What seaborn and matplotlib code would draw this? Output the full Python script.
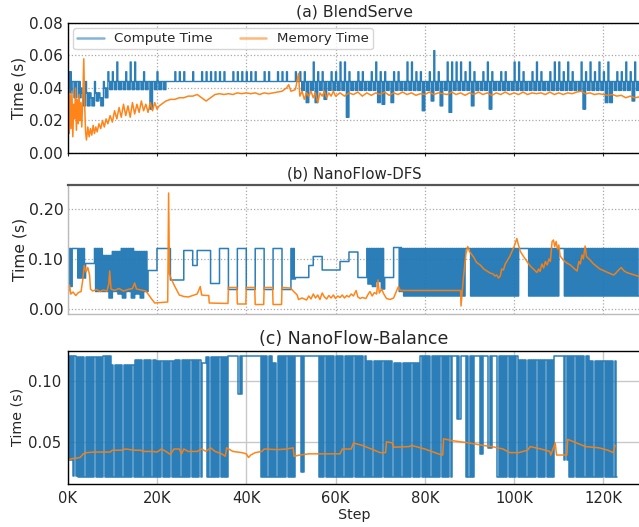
import matplotlib
matplotlib.use("Agg")
import matplotlib.pyplot as plt
from matplotlib.lines import Line2D
import numpy as np
import pandas as pd
import seaborn as sns

sns.set_style("white")
plt.rcParams['font.family'] = ['DejaVu Sans']

BLUE = "#1f77b4"
ORANGE = "#ff7f0e"

titles = ["(a) BlendServe", "(b) NanoFlow-DFS", "(c) NanoFlow-Balance"]
series_names = ["Compute Time", "Memory Time"]
x_tick_values = [0, 20000, 40000, 60000, 80000, 100000, 120000]
x_tick_labels = ["0K", "20K", "40K", "60K", "80K", "100K", "120K"]

# ---------------- (a) BlendServe ----------------
# compute time per 1K-step bin: spike value, band top, band bottom (s)
blend_compute_spike = (
    [.050, .044, .044, .040, .044, .037, .044, .037, .044, .050, .050, .056, .044, .050, .056, .056,
     .044, .050, .044, .044, .050, .044]
    + [.044, .044, .050, .050, .050, .044, .050, .044, .050, .050, .050, .050, .050, .050, .044,
       .050, .050, .050, .050, .050, .050, .044, .050, .050, .044, .050, .050, .050, .044, .050]
    + [.050, .050, .044, .056, .050, .050, .044, .050, .050, .056, .056, .050, .044, .050, .050,
       .044, .050, .056, .050, .050, .044, .050, .050, .044, .056, .056, .050, .050, .044, .050,
       .063, .050, .044, .056, .056, .056, .056, .050, .056, .050, .044, .050, .056, .050, .044,
       .050, .050, .044, .056, .056, .050, .044, .050, .056, .050, .044, .050, .056, .056, .050,
       .056, .050, .044, .056, .050, .056, .050, .056, .050, .056, .044, .050, .050, .056, .050,
       .056]
)
blend_compute_upper = (
    [.050, .044, .044, .037, .037, .034, .037, .034, .040]
    + [.044] * 13
    + [.044] * 30
    + [.044] * 76
)
blend_compute_lower = (
    [.037, .034, .034, .029, .029, .029, .032, .029, .034, .039, .039, .039, .039, .039, .039, .039,
     .039, .039, .027, .039, .039, .039]
    + [.044] * 30
    + [.0385, .031, .0385, .031, .0385, .033, .0385, .0385, .0385, .0385, .022, .0385, .0385,
       .0385, .0385, .0385, .0385, .031, .030, .0385, .031, .0385, .0385, .0385, .0385, .0385,
       .0385, .026, .0385, .032, .0385, .029, .0385, .025, .0385, .0385, .0385, .0385, .029,
       .0385, .0385, .0385, .027, .0385, .0385, .0385, .0385, .0385, .0385, .0385, .0385,
       .0385, .0385, .0385, .0385, .0385, .0385, .0385, .0385, .0385, .0385, .0385, .0385,
       .027, .0385, .0385, .0385, .0385, .031, .031, .0385, .0385, .0385, .0385, .032, .0385]
)
blend_mem_step_k = [
    0, 0.15, 0.35, 0.55, 0.75, 0.95, 1.15, 1.35, 1.55, 1.75, 1.95, 2.15, 2.35, 2.55, 2.75, 2.95,
    3.15, 3.4, 3.6, 3.8, 4.0, 4.2, 4.5, 4.8, 5.1, 5.4, 5.7, 6.0, 6.3, 6.6, 7.0, 7.4, 7.8, 8.2,
    8.6, 9.0, 9.5, 10.0, 10.5, 11.0, 11.5, 12.0, 12.5, 13.0, 13.5, 14.0, 14.5, 15.0, 15.5, 16.0,
    16.5, 17.0, 17.5, 18.0, 18.5, 19.0, 19.5, 20.0, 20.5, 21, 22, 23, 24, 25, 26, 27, 28, 29, 30,
    31, 32, 33, 34, 35, 36, 37, 38, 39, 40, 41, 42, 43, 44, 45, 46, 47, 48, 49, 49.5, 50, 51,
    51.7, 52, 52.5, 53, 53.5, 54, 54.5, 55, 55.5, 56, 56.5, 57, 57.5, 58, 58.5, 59, 59.5, 60,
    61, 62, 63, 64, 65, 66, 67, 68, 69, 70, 71, 72, 73, 74, 75, 76, 77, 78, 79, 80, 81, 82, 83,
    84, 85, 86, 87, 88, 89, 90, 91, 92, 93, 94, 95, 96, 97, 98, 99, 100, 101, 102, 103, 104,
    105, 106, 107, 108, 109, 110, 111, 112, 113, 114, 115, 116, 117, 118, 119, 120, 121, 122,
    123, 124, 125, 126, 127, 128]
blend_mem_time = [
    .000, .040, .012, .036, .015, .038, .010, .030, .021, .040, .014, .033, .018, .036, .020, .031,
    .016, .036, .058, .030, .013, .008, .016, .010, .015, .011, .017, .012, .016, .013, .018, .015,
    .020, .016, .021, .018, .023, .019, .026, .021, .028, .022, .030, .023, .029, .022, .031, .024,
    .030, .025, .032, .026, .030, .025, .031, .026, .031, .027, .029, .030, .032, .033, .033, .034,
    .034, .035, .035, .036, .034, .032, .034, .036, .0365, .036, .0365, .036, .037, .0365, .037,
    .0365, .037, .036, .037, .0365, .037, .0375, .038, .040, .042, .038, .039, .049, .035, .038,
    .033, .037, .035, .038, .034, .037, .031, .037, .035, .038, .034, .037, .035, .038, .035, .037,
    .035, .037, .036, .0375, .035, .037, .0355, .037, .036, .0375, .0355, .037, .036, .0375, .036,
    .037, .0355, .0365, .036, .0375, .036, .037, .0365, .036, .0375, .036, .037, .0355, .037, .036,
    .0375, .036, .037, .0355, .037, .036, .0375, .036, .037, .036, .0375, .036, .037, .0365, .037,
    .036, .0375, .036, .037, .036, .037, .0365, .0375, .038, .0365, .037, .036, .0365, .036, .0355,
    .036, .035, .0355, .034, .035, .034, .0345]

# ---------------- (b) NanoFlow-DFS ----------------
dfs_compute_peak = (
    [.121, .121, .121, .121, .091, .091, .121, .121, .107, .107, .115, .115, .121, .121, .121, .115,
     .115, .115, .077, .077, .121, .121, .121, .058, .058, .058, .117, .117, .087, .117, .117, .117,
     .051, .051, .121, .121, .039, .039, .121, .121, .039, .039, .121, .121, .039, .039, .121, .121,
     .039, .039, .121, .063, .063, .063, .087, .105, .105, .078, .078, .078, .078, .095, .095, .114,
     .114, .063, .063, .121, .121, .121, .121, .063, .063, .123, .123]
    + [.121] * 53
)
dfs_compute_trough = (
    [.045, .121, .062, .062, .091, .091, .035, .035, .035, .022, .035, .030, .022, .035, .022, .030,
     .022, .035, .077, .077, .121, .121, .121, .058, .058, .058, .117, .117, .087, .117, .117, .117,
     .051, .051, .121, .121, .039, .039, .121, .121, .039, .039, .121, .121, .039, .039, .121, .121,
     .039, .039, .060, .063, .063, .063, .087, .105, .105, .078, .078, .078, .078, .095, .095, .114,
     .114, .063, .063, .050, .045, .055, .040, .063, .063, .123, .035]
    + [.026] * 14 + [.121] + [.026] * 11 + [.121] * 2 + [.026] * 7 + [.121] + [.026] * 17
)
dfs_mem_step_k = [
    0, 0.15, 0.4, 0.7, 1.2, 1.8, 2.4, 3.0, 3.4, 3.7, 4.1, 4.5, 4.9, 5.1, 5.6, 6.5, 7.2, 8.0, 8.8,
    9.2, 9.4, 9.7, 10.5, 11.5, 12.5, 13.5, 14.5, 15.0, 15.4, 16.5, 17.5, 18.0, 18.8, 19.5, 21.0,
    22.4, 22.6, 22.8, 23.2, 24.0, 25.0, 26.0, 27.0, 28.0, 29.0, 29.7, 30.0, 31.0, 31.6, 31.7,
    35.9, 36.0, 37.9, 38.0, 39.9, 40.0, 41.9, 42.0, 43.9, 44.0, 45.9, 46.0, 47.9, 48.0, 49.9,
    50.5, 51.4, 51.7, 52.5, 53.5, 54, 54.5, 55, 55.5, 56, 56.5, 57, 57.5, 58, 58.5, 59, 59.5, 60,
    60.5, 61, 61.5, 62, 62.5, 63, 63.5, 64, 64.6, 65, 65.5, 66, 66.8, 67.2, 67.7, 68.2, 68.7,
    69.2, 69.5, 69.8, 70.3, 70.8, 71.4, 72.2, 73, 73.6, 74.1, 74.5, 88.0, 88.1, 88.6, 89.2, 89.6,
    90.0, 90.9, 91.6, 92.4, 93.2, 93.9, 94.6, 95.3, 95.7, 96.1, 96.5, 96.9, 97.2, 97.6, 98.0,
    98.4, 99.0, 99.5, 100.0, 100.6, 100.9, 101.4, 102.1, 102.9, 103.6, 104.4, 105.1, 105.5,
    105.8, 106.2, 106.6, 107.0, 107.4, 107.8, 108.1, 108.5, 108.8, 109.1, 109.4, 109.7, 110.0,
    110.3, 111.0, 111.8, 112.6, 113.3, 114.1, 114.5, 114.8, 115.2, 115.5, 115.9, 116.2, 117.0,
    117.8, 118.5, 119.2, 120.0, 120.7, 121.5, 122.3, 122.8, 123.4, 124.0, 124.5, 125.2, 125.9,
    127.0, 128.0]
dfs_mem_time = [
    .003, .030, .048, .030, .034, .027, .033, .035, .060, .087, .074, .083, .068, .040, .036, .039,
    .035, .038, .036, .050, .076, .040, .037, .041, .036, .039, .041, .052, .040, .038, .036, .030,
    .020, .012, .013, .014, .232, .070, .060, .045, .028, .025, .024, .027, .030, .045, .028, .027,
    .027, .012, .011, .043, .043, .010, .010, .043, .043, .009, .009, .043, .043, .009, .009, .043,
    .042, .036, .028, .019, .022, .018, .026, .020, .030, .022, .028, .019, .032, .024, .020, .027,
    .022, .028, .021, .026, .023, .028, .022, .027, .024, .030, .026, .037, .024, .021, .023, .021,
    .028, .035, .026, .033, .030, .058, .032, .040, .030, .021, .019, .022, .035, .045, .037, .037,
    .006, .060, .110, .125, .115, .104, .093, .088, .080, .076, .072, .070, .066, .068, .062, .066,
    .080, .078, .090, .096, .105, .115, .125, .141, .130, .115, .105, .095, .086, .079, .073, .080,
    .075, .090, .082, .095, .088, .100, .095, .135, .138, .125, .135, .120, .128, .106, .098, .092,
    .088, .082, .076, .095, .090, .108, .100, .126, .105, .098, .090, .085, .080, .077, .074, .071,
    .068, .072, .078, .083, .077, .073, .071, .068, .065]

# ---------------- (c) NanoFlow-Balance ----------------
bal_compute_peak = (
    [.121, .121] + [.120] * 6 + [.121] * 2 + [.114] * 5 + [.118] * 5 + [.117] * 4 + [.118] * 6
    + [.115] + [.120] * 5 + [.121] * 7 + [.121] * 3 + [.115] + [.121] * 4 + [.121] * 5
    + [.121] * 11 + [.117] * 6 + [.115] * 6 + [.121] * 7 + [.121] * 3 + [.121] * 2 + [.121] * 5
    + [.121] * 5 + [.118] * 8 + [.121] * 3 + [.121] * 5 + [.117] * 6
)
bal_compute_trough = (
    [.035, .022] + [.021] * 6 + [.021] * 2 + [.021] * 5 + [.021] * 5 + [.021] * 4 + [.021] * 6
    + [.115] + [.021] * 5 + [.121, .121, .090, .121, .121, .121, .121] + [.021] * 3 + [.021]
    + [.021] * 4 + [.121, .025, .121, .121, .121] + [.021] * 11 + [.021] * 6 + [.021] * 6
    + [.021] * 7 + [.121, .069, .121] + [.021] * 2 + [.121, .040, .121, .045, .121] + [.021] * 5
    + [.021] * 8 + [.121, .121, .035] + [.021] * 5 + [.021] * 6
)
bal_mem_step_k = [
    0, 1, 2, 2.8, 3.5, 4.2, 6, 8, 9.5, 10, 12, 13, 15, 16.3, 17, 19, 20, 21, 22, 23, 23.8, 25,
    25.5, 26, 27, 29, 30, 31, 32, 33, 34.5, 35.3, 35.6, 37, 39, 40, 40.5, 41, 42, 43.5, 44, 47,
    49, 50.5, 50.7, 52, 54, 58, 61, 61.5, 63.5, 64, 66, 68, 70, 71.2, 71.4, 72.8, 73, 76.5, 77,
    80, 83, 84, 84.2, 86, 88, 90, 93, 95, 97.5, 99, 101, 103, 103.6, 106, 108, 108.2, 109.2,
    109.5, 111.8, 112, 114, 116, 119, 121, 122.2, 122.6]
bal_mem_time = [
    .035, .036, .0365, .037, .040, .041, .0415, .0415, .0415, .043, .043, .044, .043, .043, .042,
    .042, .0415, .044, .042, .0395, .044, .044, .040, .044, .042, .042, .044, .042, .045, .042,
    .040, .038, .045, .042, .041, .040, .037, .039, .041, .042, .044, .0435, .044, .045, .038,
    .039, .040, .040, .040, .044, .044, .049, .047, .044, .041, .041, .050, .049, .0455, .046,
    .047, .044, .040, .039, .0525, .051, .050, .049, .047, .046, .044, .041, .041, .043, .046,
    .044, .042, .039, .049, .039, .039, .052, .049, .046, .045, .043, .041, .047]


def trace_frame(spike, upper, lower, pulses, spike_frac):
    """Turn per-1K-bin readings (spike, band top, band bottom) into a step trace."""
    xs, ys = [], []
    for i, (s, u, l) in enumerate(zip(spike, upper, lower)):
        x0 = i * 1000.0
        start = x0
        if spike_frac > 0:
            xs.append(x0); ys.append(s)
            start = x0 + spike_frac * 1000.0
        d = (x0 + 1000.0 - start) / pulses
        for j in range(pulses):
            xs += [start + j * d, start + j * d + d / 2]
            ys += [u, l]
    xs.append(len(spike) * 1000.0)
    ys.append(lower[-1])
    return pd.DataFrame({"Step": xs, "Time": ys})


def mem_frame(step_k, values):
    return pd.DataFrame({"Step": np.array(step_k) * 1000.0, "Time": values})


W, H = 639, 527
fig = plt.figure(figsize=(W / 100, H / 100), dpi=100)
left = 67.7 / W
width = (640.5 - 67.7) / W
ax_a = fig.add_axes([left, (H - 153) / H, width, 130 / H])
ax_b = fig.add_axes([left, (H - 314) / H, width, 129 / H])
ax_c = fig.add_axes([left, (H - 484) / H, width, 133.3 / H])

traces = [
    (ax_a, trace_frame(blend_compute_spike, blend_compute_upper, blend_compute_lower, 2, 0.22),
     mem_frame(blend_mem_step_k, blend_mem_time), 1.0),
    (ax_b, trace_frame(dfs_compute_peak, dfs_compute_peak, dfs_compute_trough, 2, 0.0),
     mem_frame(dfs_mem_step_k, dfs_mem_time), 1.1),
    (ax_c, trace_frame(bal_compute_peak, bal_compute_peak, bal_compute_trough, 2, 0.0),
     mem_frame(bal_mem_step_k, bal_mem_time), 1.1),
]
for ax, comp_df, mem_df, lw in traces:
    sns.lineplot(data=comp_df, x="Step", y="Time", ax=ax, color=BLUE,
                 lw=lw, drawstyle="steps-post", estimator=None, sort=False, alpha=0.95)
    sns.lineplot(data=mem_df, x="Step", y="Time", ax=ax, color=ORANGE,
                 lw=1.1, estimator=None, sort=False, alpha=0.95)
    ax.set_xlim(0, 128300)
    ax.set_xticks(x_tick_values)
    ax.set_axisbelow(True)

# ---- panel (a) styling
ax_a.set_ylim(0, 0.08)
ax_a.set_yticks([0, 0.02, 0.04, 0.06, 0.08])
ax_a.set_yticklabels(["0.00", "0.02", "0.04", "0.06", "0.08"])
ax_a.set_xticklabels([])
ax_a.tick_params(axis="y", length=0, pad=3.6, labelsize=11)
ax_a.tick_params(axis="x", length=2, direction="out", bottom=True)
ax_a.grid(True, ls=":", color="#a8a8a8", lw=0.9)
for s in ax_a.spines.values():
    s.set_color("black"); s.set_linewidth(1.0)
ax_a.set_title(titles[0], fontsize=11.3, pad=4.4)
ax_a.set_ylabel("Time (s)", fontsize=11)
ax_a.yaxis.set_label_coords(-0.0714, 0.5)
ax_a.set_xlabel("")
handles = [Line2D([], [], color=BLUE, lw=1.8, alpha=0.55),
           Line2D([], [], color=ORANGE, lw=1.8, alpha=0.55)]
leg = ax_a.legend(handles, series_names, loc="upper left", ncol=2, fontsize=9.6,
                  frameon=True, borderpad=0.3, borderaxespad=0.4, columnspacing=2.0,
                  handlelength=2.0, fancybox=True)
leg.get_frame().set_edgecolor("#cccccc")

# ---- panel (b) styling
ax_b.set_ylim(-0.01, 0.248)
ax_b.set_yticks([0, 0.1, 0.2])
ax_b.set_yticklabels(["0.00", "0.10", "0.20"])
ax_b.set_xticklabels([])
ax_b.tick_params(axis="y", length=0, pad=3.2, labelsize=11.3)
ax_b.tick_params(axis="x", length=0)
ax_b.grid(True, ls=":", color="#a8a8a8", lw=0.9)
for name, s in ax_b.spines.items():
    s.set_color("#bbbbbb"); s.set_linewidth(1.0)
ax_b.spines["top"].set_color("#555555")
ax_b.spines["top"].set_linewidth(1.6)
ax_b.set_title(titles[1], fontsize=10.8, pad=4.6)
ax_b.set_ylabel("Time (s)", fontsize=11.2)
ax_b.yaxis.set_label_coords(-0.0705, 0.5)
ax_b.set_xlabel("")

# ---- panel (c) styling
ax_c.set_ylim(0.015, 0.1255)
ax_c.set_yticks([0.05, 0.10])
ax_c.set_yticklabels(["0.05", "0.10"])
ax_c.set_xticklabels(x_tick_labels)
ax_c.tick_params(axis="y", length=0, pad=4.3, labelsize=10.7)
ax_c.tick_params(axis="x", length=0, pad=5, labelsize=10.6)
ax_c.grid(True, ls="-", color="#c8c8c8", lw=1.0)
for s in ax_c.spines.values():
    s.set_color("black"); s.set_linewidth(1.0)
ax_c.set_title(titles[2], fontsize=12.5, pad=4.5)
ax_c.set_ylabel("Time (s)", fontsize=10.3)
ax_c.yaxis.set_label_coords(-0.0759, 0.5)
ax_c.set_xlabel("Step", fontsize=10.3, labelpad=1.5)

fig.savefig("out.png", dpi=100)
